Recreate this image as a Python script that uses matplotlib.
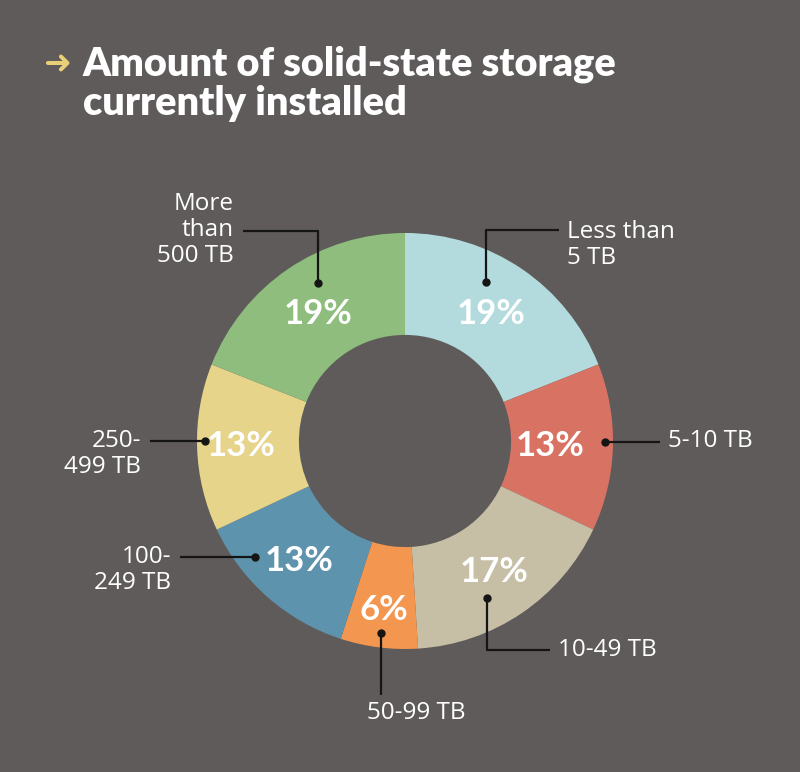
import numpy as np
import matplotlib.pyplot as plt

# data
categories = ["Less than\n5 TB", "5-10 TB", "10-49 TB", "50-99 TB",
              "100-\n249 TB", "250-\n499 TB", "More\nthan\n500 TB"]
shares = [19, 13, 17, 6, 13, 13, 19]
colors = ["#b3dbde", "#d87364", "#c7bea6", "#f39650", "#5e93ad", "#e5d48a", "#8ebd7e"]

BG = "#5f5b5a"
H = 772

fig = plt.figure(figsize=(8, 7.72), dpi=100, facecolor=BG)
ax = fig.add_axes([0, 0, 1, 1])
ax.set_facecolor(BG)

cx, cy, R = 405, H - 441, 208
wedges, _ = ax.pie(shares, colors=colors, startangle=90, counterclock=False,
                   radius=R, center=(cx, cy), frame=True,
                   wedgeprops=dict(width=R * 0.49, linewidth=0))
ax.set_xlim(0, 800)
ax.set_ylim(0, H)
ax.set_aspect("equal")
ax.axis("off")

# percent labels at slice middles
pct_r = [0.74, 0.70, 0.76, 0.82, 0.77, 0.79, 0.74]
for w, s, fr in zip(wedges, shares, pct_r):
    mid = np.deg2rad((w.theta1 + w.theta2) / 2)
    ax.text(cx + fr * R * np.cos(mid), cy + fr * R * np.sin(mid), f"{s}%",
            color="white", fontsize=25, fontweight="bold", family="Lato",
            ha="center", va="center")

# leader lines: dot, elbow(s), label anchor (pixel coords from top)
leaders = [
    ([(486, 282), (486, 230), (559, 230)], (567, 245), "left"),
    ([(605, 442), (660, 442)], (668, 441), "left"),
    ([(487, 598), (487, 650), (550, 650)], (558, 650), "left"),
    ([(381, 633), (381, 695)], (416, 713), "center"),
    ([(255, 557), (180, 557)], (171, 570), "right"),
    ([(205, 441), (150, 441)], (141, 454), "right"),
    ([(318, 283), (318, 231), (243, 231)], (234, 230), "right"),
]
for (pts, lab, ha), name in zip(leaders, categories):
    xs = [p[0] for p in pts]
    ys = [H - p[1] for p in pts]
    ax.plot(xs, ys, color="#151515", lw=1.6, solid_capstyle="butt")
    ax.plot(xs[0], ys[0], "o", color="#151515", ms=5)
    ax.text(lab[0], H - lab[1], name, color="white", fontsize=17.5, family="Open Sans",
            ha=ha, va="center", linespacing=1.1)

# title
ax.text(43, H - 63, "\u279c", color="#e8cf78", fontsize=24, family="DejaVu Sans",
        ha="left", va="center")
ax.text(83, H - 84, "Amount of solid-state storage\ncurrently installed",
        color="white", fontsize=28.5, fontweight="heavy", family="Lato",
        ha="left", va="center", linespacing=1.06)

fig.savefig("out.png", dpi=100, facecolor=BG)
